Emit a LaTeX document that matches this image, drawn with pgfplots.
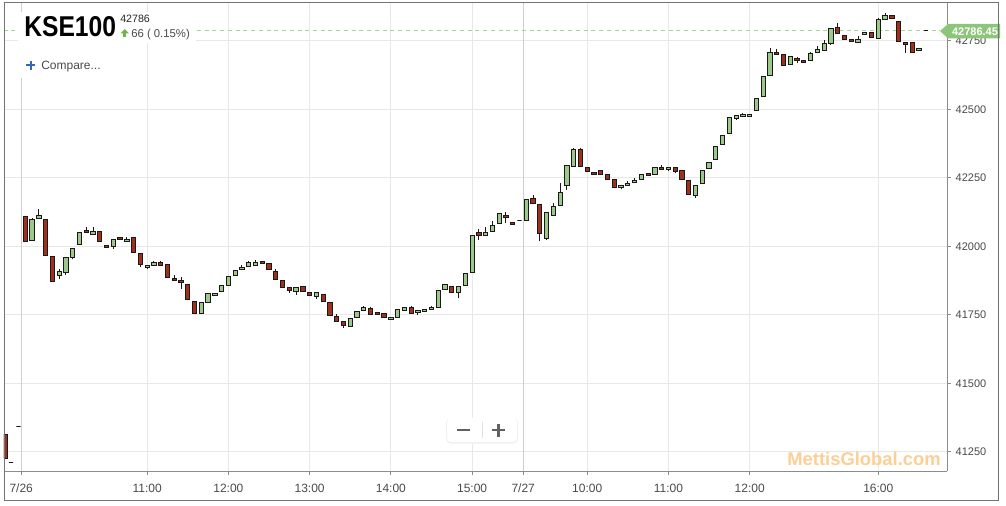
\documentclass[border=0pt]{standalone}
\usepackage{pgfplots}
\pgfplotsset{compat=1.18}
\usepackage{pgfplotstable}
\usepackage{graphicx}
\usepackage{fontspec}
\setmainfont{Liberation Sans}

\definecolor{cgreen}{HTML}{9CC98B}
\definecolor{cred}{HTML}{A0301C}
\definecolor{gridc}{HTML}{E8E8E8}
\definecolor{dayc}{HTML}{CFCFCF}
\definecolor{axisc}{HTML}{8C8C8C}
\definecolor{labc}{HTML}{4A4A4A}
\definecolor{tagc}{HTML}{8DC67B}
\definecolor{dashc}{HTML}{A8D49A}
\definecolor{wmc}{HTML}{FCCF95}
\definecolor{bluec}{HTML}{2B6CB8}
\definecolor{arrowc}{HTML}{6DB54B}

\pgfdeclareplotmark{candle}{%
  \pgfsetlinewidth{0.7pt}%
  \pgfpathmoveto{\pgfpoint{0pt}{0pt}}%
  \pgfpathlineto{\pgfpoint{0pt}{\cH*0.205504pt}}%
  \pgfusepath{stroke}%
  \pgfpathrectangle{\pgfpoint{-1.6pt}{\cB*0.205504pt}}{\pgfpoint{3.2pt}{(\cT-\cB)*0.205504pt}}%
  \pgfusepath{fill,stroke}%
}

\pgfplotstableread{
x o h l c
-2.95 41315 41315 41227 41227
-2.1 41212 41212 41212 41212
-1 41344 41344 41344 41344
0 42110 42110 42017 42017
1 42020 42105 42020 42098
2 42102 42138 42102 42111
3 42098 42098 41967 41967
4 41963 41963 41872 41872
5 41894 41918 41879 41908
6 41905 41958 41896 41958
7 41958 41991 41952 41991
8 42007 42051 42007 42051
9 42059 42070 42051 42051
10 42043 42071 42043 42053
11 42054 42054 42017 42017
12 42004 42004 41996 41996
13 41998 42025 41991 42025
14 42031 42031 42024 42024
15 42017 42034 42017 42026
16 42032 42032 41976 41976
17 41974 41974 41925 41933
18 41922 41930 41916 41930
19 41930 41947 41930 41940
20 41940 41946 41930 41930
21 41935 41935 41886 41886
22 41884 41894 41876 41876
23 41877 41889 41845 41868
24 41861 41861 41806 41806
25 41799 41799 41755 41755
26 41755 41795 41755 41795
27 41795 41827 41795 41827
28 41821 41829 41818 41829
29 41837 41856 41832 41856
30 41857 41890 41857 41890
31 41895 41912 41895 41912
32 41914 41930 41914 41923
33 41928 41947 41928 41941
34 41931 41950 41931 41941
35 41945 41945 41937 41937
36 41937 41937 41916 41916
37 41910 41916 41879 41879
38 41875 41875 41850 41850
39 41850 41850 41830 41839
40 41834 41850 41823 41850
41 41854 41854 41834 41834
42 41833 41833 41821 41821
43 41816 41832 41809 41832
44 41826 41826 41799 41799
45 41796 41796 41748 41748
46 41745 41752 41726 41726
47 41727 41727 41703 41711
48 41708 41736 41708 41736
49 41740 41764 41740 41764
50 41767 41784 41767 41778
51 41773 41779 41753 41753
52 41760 41760 41753 41753
53 41755 41755 41740 41740
54 41733 41741 41733 41741
55 41740 41770 41740 41770
56 41767 41777 41767 41777
57 41778 41783 41756 41756
58 41757 41767 41748 41767
59 41763 41771 41763 41771
60 41770 41783 41770 41778
61 41778 41839 41778 41839
62 41843 41861 41843 41861
63 41855 41855 41830 41830
64 41832 41855 41810 41855
65 41857 41902 41857 41902
66 41905 42040 41905 42040
67 42052 42063 42024 42039
68 42039 42069 42039 42052
69 42054 42092 42054 42076
70 42083 42120 42083 42120
71 42113 42125 42086 42105
72 42087 42087 42080 42080
73 42096 42096 42096 42096
74 42095 42171 42095 42171
75 42175 42186 42155 42155
76 42153 42153 42019 42047
77 42029 42124 42022 42124
78 42113 42158 42113 42146
79 42148 42230 42148 42197
80 42222 42295 42205 42295
81 42292 42357 42292 42354
82 42354 42357 42292 42292
83 42288 42288 42273 42273
84 42270 42270 42262 42262
85 42277 42277 42262 42262
86 42262 42262 42244 42244
87 42243 42243 42215 42215
88 42214 42222 42208 42222
89 42222 42238 42222 42231
90 42233 42250 42233 42242
91 42244 42264 42244 42264
92 42267 42267 42259 42259
93 42262 42288 42262 42288
94 42289 42296 42281 42281
95 42279 42287 42275 42287
96 42287 42287 42267 42275
97 42277 42277 42244 42244
98 42240 42240 42189 42189
99 42186 42222 42178 42222
100 42228 42277 42228 42277
101 42284 42306 42284 42306
102 42317 42365 42317 42365
103 42373 42405 42373 42405
104 42412 42470 42410 42470
105 42467 42476 42462 42476
106 42473 42487 42473 42481
107 42475 42483 42475 42483
108 42497 42539 42497 42539
109 42547 42620 42547 42620
110 42624 42722 42624 42708
111 42709 42719 42700 42700
112 42700 42700 42659 42659
113 42663 42693 42663 42693
114 42686 42691 42668 42678
115 42677 42677 42670 42670
116 42678 42710 42678 42703
117 42708 42731 42708 42717
118 42715 42752 42715 42741
119 42742 42795 42736 42795
120 42799 42814 42777 42777
121 42770 42770 42755 42755
122 42756 42756 42747 42747
123 42744 42766 42744 42756
124 42773 42782 42773 42782
125 42782 42782 42762 42762
126 42759 42834 42759 42828
127 42828 42850 42828 42841
128 42841 42841 42833 42833
129 42822 42822 42747 42747
130 42745 42745 42704 42737
131 42744 42744 42708 42708
132 42715 42721 42715 42721
133 42786 42786 42786 42786
}\candles

\begin{document}
\begin{tikzpicture}
\path[use as bounding box] (0pt,0pt) rectangle (754.5pt,-379.5pt);
\fill[white] (0pt,0pt) rectangle (754.5pt,-379.5pt);
\begin{axis}[
  at={(3pt,-353.25pt)}, anchor=south west,
  scale only axis, width=707.25pt, height=351pt,
  xmin=-3.146, xmax=136.15, ymin=41180, ymax=42888,
  axis x line*=bottom, axis y line*=right,
  axis line style={axisc, line width=0.75pt, -},
  xtick={18,30,42,54,66,83,95,107,126},
  xticklabels={11:00,12:00,13:00,14:00,15:00,10:00,11:00,12:00,16:00},
  extra x ticks={-0.6,73.55},
  extra x tick labels={7/26,7/27},
  extra x tick style={grid style={dayc, line width=0.75pt}},
  ytick={41250,41500,41750,42000,42250,42500,42750},
  scaled y ticks=false,
  yticklabel={\pgfmathprintnumber[fixed, precision=0, 1000 sep={}, assume math mode=true]{\tick}},
  xmajorgrids, ymajorgrids,
  grid style={gridc, line width=0.75pt},
  tick style={axisc, line width=0.75pt},
  tick align=outside, major tick length=3pt,
  xticklabel style={font=\fontsize{9pt}{10pt}\selectfont, text=labc, yshift=-3pt},
  yticklabel style={font=\fontsize{8.25pt}{10pt}\selectfont, text=labc},
  clip marker paths=true,
]
\addplot[dashc, line width=0.75pt, dash pattern=on 3pt off 2.8pt, forget plot]
  coordinates {(-3.2,42786.45) (135.1,42786.45)};
\addplot[only marks, mark=candle, mark options={draw=black!90, fill=cgreen},
  visualization depends on={\thisrow{h}-\thisrow{l} \as \cH},
  visualization depends on={min(\thisrow{o},\thisrow{c})-\thisrow{l} \as \cB},
  visualization depends on={max(\thisrow{o},\thisrow{c})-\thisrow{l} \as \cT},
  restrict expr to domain={\thisrow{c}-\thisrow{o}}{0:10000}]
  table[x=x, y=l] {\candles};
\addplot[only marks, mark=candle, mark options={draw=black!90, fill=cred},
  visualization depends on={\thisrow{h}-\thisrow{l} \as \cH},
  visualization depends on={min(\thisrow{o},\thisrow{c})-\thisrow{l} \as \cB},
  visualization depends on={max(\thisrow{o},\thisrow{c})-\thisrow{l} \as \cT},
  restrict expr to domain={\thisrow{o}-\thisrow{c}}{0.5:10000}]
  table[x=x, y=l] {\candles};
\end{axis}
\begin{scope}[x=0.75pt, y=-0.75pt]
  % title boxes
  \fill[white] (18,12) rectangle (196,43);
  \fill[white] (18,43) rectangle (110,78);
  \node[anchor=base west, inner sep=0] at (24,37)
    {\scalebox{0.86}[1]{\fontsize{21.5pt}{21.5pt}\selectfont\bfseries KSE100}};
  \node[anchor=base west, inner sep=0, font=\fontsize{8pt}{8pt}\selectfont, text=black!85] at (120,22.8) {42786};
  \fill[arrowc] (120.5,33.5) -- (124.75,29) -- (129,33.5) -- cycle;
  \fill[arrowc] (123.3,33.3) rectangle (126.2,37.5);
  \node[anchor=base west, inner sep=0, font=\fontsize{8.5pt}{8.5pt}\selectfont, text=labc] at (131,37.3) {66 ( 0.15\%)};
  \draw[bluec, line width=1.5pt] (26,65.5) -- (35,65.5) (30.5,61) -- (30.5,70);
  \node[anchor=base west, inner sep=0, font=\fontsize{9pt}{10pt}\selectfont, text=labc] at (41,69.5) {Compare...};
  % zoom buttons
  \fill[black!6, rounded corners=3.5pt] (446,418) rectangle (518,443.5);
  \fill[white, rounded corners=3pt] (447,418) rectangle (517,442);
  \draw[black!12, line width=0.6pt] (482.7,422) -- (482.7,438);
  \draw[black!62, line width=2pt] (457,430) -- (470,430);
  \draw[black!62, line width=2pt] (492,430) -- (505,430) (498.5,423.5) -- (498.5,436.5);
  % watermark
  \node[anchor=base east, inner sep=0, text=wmc, font=\fontsize{13.8pt}{15pt}\selectfont\bfseries] at (941,465.5) {MettisGlobal.com};
  % price tag
  \fill[tagc] (940,31) -- (948,24) -- (1000,24) -- (1000,38.5) -- (948,38.5) -- cycle;
  \node[anchor=base, inner sep=0, text=white, font=\fontsize{8.25pt}{9pt}\selectfont\bfseries] at (975,35.3) {42786.45};
  % frame
  \draw[black!55, line width=0.75pt] (4,3) rectangle (998,500);
\end{scope}
\end{tikzpicture}
\end{document}
